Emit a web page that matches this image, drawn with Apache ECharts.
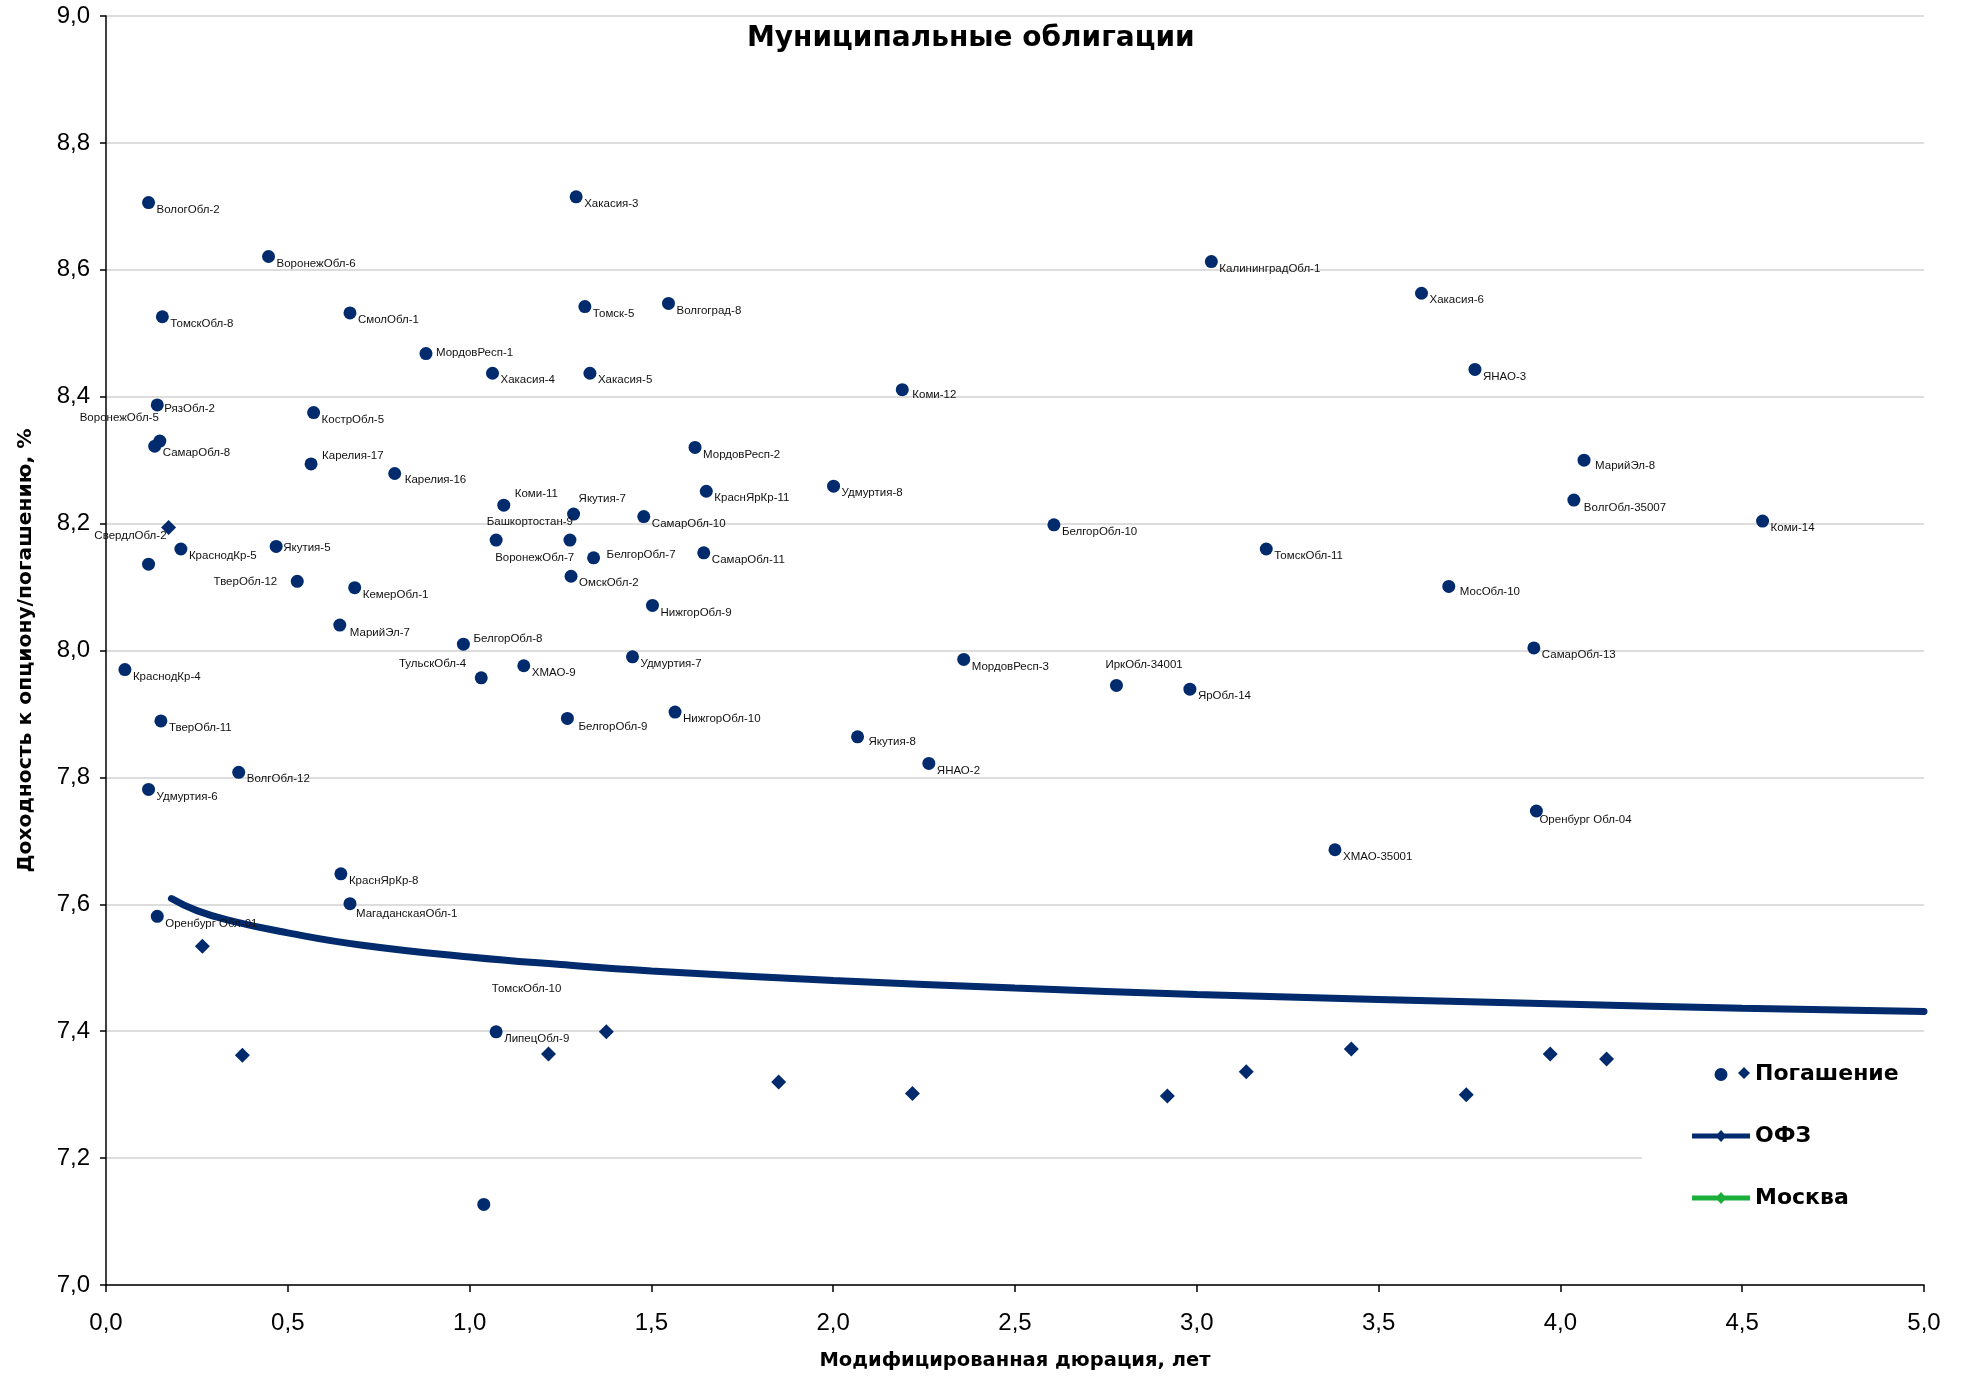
<!DOCTYPE html>
<html>
<head>
<meta charset="utf-8">
<script src="https://cdn.jsdelivr.net/npm/echarts@6/dist/echarts.min.js"></script>
<style>
html,body{margin:0;padding:0;background:#fff;}
#c{width:1962px;height:1376px;}
</style>
</head>
<body>
<div id="c"></div>
<script>
// ---- data ----
const bondNames = ['ВологОбл-2','Хакасия-3','ВоронежОбл-6','КалининградОбл-1','Хакасия-6','ТомскОбл-8','СмолОбл-1','Томск-5','Волгоград-8','МордовРесп-1','Хакасия-4','Хакасия-5','ЯНАО-3','Коми-12','РязОбл-2','КострОбл-5','ВоронежОбл-5','СамарОбл-8','Карелия-17','Карелия-16','МордовРесп-2','Удмуртия-8','МарийЭл-8','КраснЯрКр-11','Коми-11','Якутия-7','ВолгОбл-35007','СамарОбл-10','БелгорОбл-10','Коми-14','Башкортостан-9','ВоронежОбл-7','БелгорОбл-7','СамарОбл-11','ТомскОбл-11','КраснодКр-5','Якутия-5','СвердлОбл-2','ТверОбл-12','КемерОбл-1','ОмскОбл-2','МосОбл-10','НижгорОбл-9','МарийЭл-7','БелгорОбл-8','СамарОбл-13','Удмуртия-7','МордовРесп-3','КраснодКр-4','ХМАО-9','ТульскОбл-4','ИркОбл-34001','ЯрОбл-14','БелгорОбл-9','НижгорОбл-10','ТверОбл-11','Якутия-8','ЯНАО-2','ВолгОбл-12','Удмуртия-6','Оренбург Обл-04','ХМАО-35001','КраснЯрКр-8','МагаданскаяОбл-1','Оренбург Обл-01','ЛипецОбл-9','ТомскОбл-10'];
const bondDuration = [0.117,1.293,0.447,3.040,3.618,0.155,0.671,1.317,1.547,0.880,1.063,1.331,3.765,2.190,0.141,0.571,0.148,0.134,0.564,0.794,1.620,2.001,4.065,1.651,1.094,1.286,4.037,1.479,2.607,4.556,1.276,1.073,1.341,1.644,3.191,0.206,0.468,0.117,0.526,0.684,1.279,3.693,1.503,0.643,0.983,3.927,1.448,2.359,0.052,1.149,1.032,2.779,2.981,1.269,1.565,0.151,2.067,2.263,0.365,0.117,3.934,3.380,0.646,0.671,0.141,1.073,1.039];
const bondYield = [8.706,8.715,8.621,8.613,8.563,8.526,8.532,8.542,8.547,8.468,8.437,8.437,8.443,8.411,8.387,8.375,8.330,8.322,8.294,8.279,8.320,8.259,8.300,8.251,8.229,8.215,8.237,8.211,8.198,8.204,8.174,8.174,8.146,8.154,8.160,8.160,8.164,8.136,8.109,8.099,8.117,8.101,8.071,8.040,8.010,8.004,7.990,7.986,7.970,7.976,7.957,7.945,7.939,7.893,7.903,7.889,7.864,7.822,7.808,7.781,7.747,7.686,7.648,7.601,7.581,7.399,7.127];

const ofzDuration = [0.172,0.265,0.375,1.217,1.376,1.850,2.218,2.919,3.136,3.425,3.741,3.972,4.127];
const ofzYield    = [8.194,7.534,7.362,7.364,7.399,7.320,7.302,7.298,7.336,7.372,7.300,7.364,7.356];

const curveDuration = [0.18,0.25,0.35,0.5,0.7,1.0,1.25,1.5,2.0,2.5,3.0,3.5,4.0,4.5,5.0];
const curveYield    = [7.609,7.590,7.573,7.555,7.536,7.517,7.505,7.495,7.480,7.468,7.458,7.450,7.443,7.436,7.431];

const moscowDuration = [];
const moscowYield = [];

const xTicks = {min: 0, max: 5, step: 0.5};
const yTicks = {min: 7, max: 9, step: 0.2};

// ---- styling (label placement per bond: [dx, dy, align]) ----
const defaultPlacement = [8, 7, 'left'];
const labelPlacement = {
  'МордовРесп-1': [10, -1, 'left'],
  'Карелия-17': [11, -8, 'left'],
  'Карелия-16': [10, 6, 'left'],
  'Коми-11': [11, -11, 'left'],
  'Якутия-7': [5, -15, 'left'],
  'Башкортостан-9': [3, -18, 'right'],
  'ВоронежОбл-7': [-1, 18, 'left'],
  'БелгорОбл-7': [13, -3, 'left'],
  'Якутия-5': [7, 1, 'left'],
  'СвердлОбл-2': [18, -28, 'right'],
  'ТверОбл-12': [-20, 0, 'right'],
  'МосОбл-10': [11, 5, 'left'],
  'МарийЭл-7': [10, 8, 'left'],
  'БелгорОбл-8': [10, -5, 'left'],
  'ТульскОбл-4': [-15, -14, 'right'],
  'ИркОбл-34001': [-11, -21, 'left'],
  'БелгорОбл-9': [11, 8, 'left'],
  'Якутия-8': [11, 5, 'left'],
  'Оренбург Обл-04': [3, 9, 'left'],
  'МагаданскаяОбл-1': [6, 10, 'left'],
  'ТомскОбл-10': [8, -216, 'left'],
  'Коми-12': [10, 5, 'left'],
  'ВоронежОбл-5': [-1, -23, 'right'],
  'МарийЭл-8': [11, 6, 'left'],
  'ВолгОбл-35007': [10, 8, 'left'],
  'РязОбл-2': [7, 4, 'left']
};

const NAVY = '#012b6c';
const GREEN = '#1aae3a';
const NARROW = "'Liberation Sans Narrow','Arial Narrow','Liberation Sans',Arial,sans-serif";
const BOLD = "'DejaVu Sans',Verdana,sans-serif";
const fmt = v => v.toFixed(1).replace('.', ',');

const bondData = bondNames.map((n, i) => {
  const p = labelPlacement[n] || defaultPlacement;
  return {name: n, value: [bondDuration[i], bondYield[i]], label: {offset: [p[0], p[1]], align: p[2]}};
});
const ofzData = ofzDuration.map((d, i) => [d, ofzYield[i]]);
const curveData = curveDuration.map((d, i) => [d, curveYield[i]]);
const moscowData = moscowDuration.map((d, i) => [d, moscowYield[i]]);

const box = 'M0,0 L0,0 M58,16 L58,16 ';
const iconBond = 'path://' + box + 'M22.5,8.5 A6.5,6.5 0 1,1 35.5,8.5 A6.5,6.5 0 1,1 22.5,8.5 Z M52,1 L58,7 L52,13 L46,7 Z';
const iconLine = 'path://' + box + 'M0,5.5 L58,5.5 L58,10.5 L0,10.5 Z M29,2 L34.5,8 L29,14 L23.5,8 Z';

const chart = echarts.init(document.getElementById('c'));
chart.setOption({
  animation: false,
  backgroundColor: '#fff',
  title: {
    text: 'Муниципальные облигации',
    left: 742, top: 20,
    textStyle: {fontFamily: BOLD, fontWeight: 'bold', fontSize: 28, color: '#000'}
  },
  grid: {left: 106, right: 38, top: 16, bottom: 87},
  xAxis: {
    type: 'value', min: xTicks.min, max: xTicks.max, interval: xTicks.step,
    axisLine: {show: true, lineStyle: {color: '#000', width: 1.5}},
    axisTick: {show: true, length: 7, lineStyle: {color: '#000', width: 1.5}},
    axisLabel: {formatter: fmt, fontFamily: NARROW, fontSize: 24, color: '#000', margin: 26},
    splitLine: {show: false},
    name: 'Модифицированная дюрация, лет',
    nameLocation: 'middle', nameGap: 66,
    nameTextStyle: {fontFamily: BOLD, fontWeight: 'bold', fontSize: 19.5, color: '#000'}
  },
  yAxis: {
    type: 'value', min: yTicks.min, max: yTicks.max, interval: yTicks.step,
    axisLine: {show: true, lineStyle: {color: '#000', width: 1.5}},
    axisTick: {show: true, length: 6, lineStyle: {color: '#000', width: 1.5}},
    axisLabel: {formatter: fmt, fontFamily: NARROW, fontSize: 24, color: '#000', margin: 16},
    splitLine: {show: true, lineStyle: {color: '#d2d2d2', width: 1.5}},
    name: 'Доходность к опциону/погашению, %',
    nameLocation: 'middle', nameGap: 70,
    nameTextStyle: {fontFamily: BOLD, fontWeight: 'bold', fontSize: 20.3, color: '#000'}
  },
  legend: {
    orient: 'vertical', left: 1642, top: 1043,
    padding: [20, 40, 20, 50], backgroundColor: '#fff',
    itemWidth: 58, itemHeight: 16, itemGap: 40,
    selectedMode: false,
    itemStyle: {borderWidth: 0},
    textStyle: {fontFamily: BOLD, fontWeight: 'bold', fontSize: 22, color: '#000'},
    data: [
      {name: 'Погашение', icon: iconBond},
      {name: 'ОФЗ', icon: iconLine},
      {name: 'Москва', icon: iconLine}
    ]
  },
  series: [
    {
      name: 'ОФЗ', type: 'line', data: curveData, smooth: true,
      showSymbol: false, symbol: 'diamond', color: NAVY,
      lineStyle: {color: NAVY, width: 7, cap: 'round'}, z: 2, silent: true
    },
    {
      name: 'ОФЗ выпуски', type: 'scatter', data: ofzData, symbol: 'diamond', symbolSize: 15,
      itemStyle: {color: NAVY, opacity: 1}, z: 3, silent: true
    },
    {
      name: 'Погашение', type: 'scatter', data: bondData, symbol: 'circle', symbolSize: 13,
      itemStyle: {color: NAVY, opacity: 1}, z: 4, silent: true,
      label: {
        show: true, position: 'inside', formatter: '{b}',
        fontFamily: NARROW, fontSize: 11.5, color: '#111', verticalAlign: 'middle',
        textBorderWidth: 0
      }
    },
    {
      name: 'Москва', type: 'line', data: moscowData, color: GREEN,
      lineStyle: {color: GREEN, width: 6}
    }
  ]
});
</script>
</body>
</html>
